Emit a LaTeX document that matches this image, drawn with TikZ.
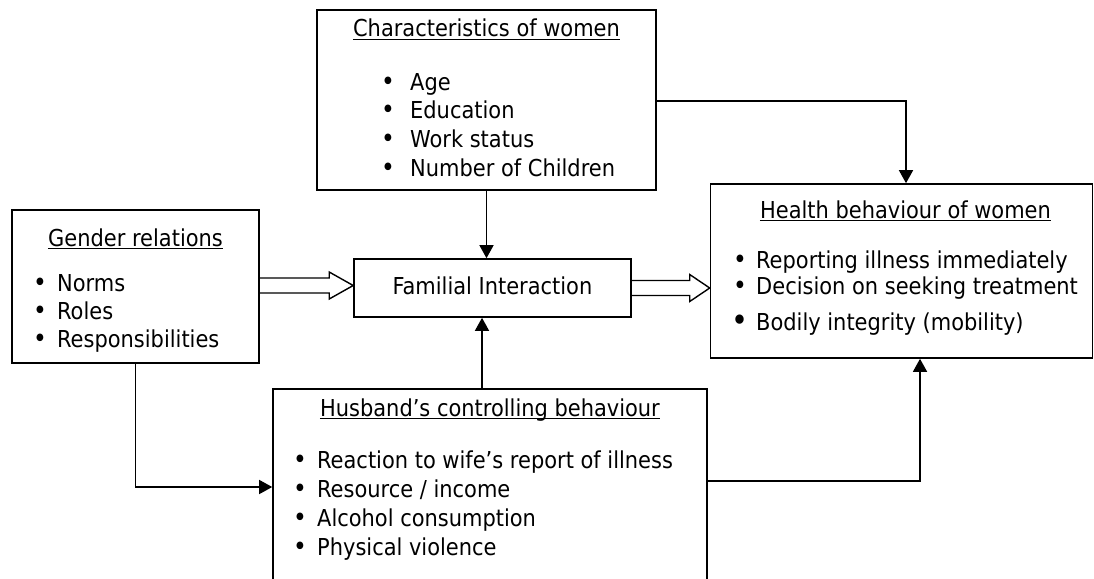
\documentclass[tikz,border=0pt]{standalone}
\usepackage{fontspec}
\setmainfont{DejaVu Sans Condensed}
\usetikzlibrary{arrows.meta,calc}
\begin{document}
\begin{tikzpicture}[x=1pt,y=-1pt,
  box/.style={draw,line width=1.6pt,inner sep=0pt,rectangle},
  txt/.style={inner sep=0pt,anchor=base west,font=\fontsize{23.3}{28}\selectfont},
  ttl/.style={inner sep=0pt,anchor=base,font=\fontsize{23.3}{28}\selectfont},
  bul/.style={inner sep=0pt,anchor=base,font=\fontsize{26}{26}\selectfont},
  ul/.style={line width=1.3pt},
  arr/.style={line width=1.4pt,-{Triangle[length=13pt,width=14pt]}},
  hollow/.style={line width=1.4pt,line join=miter}]
\useasboundingbox (0,0) rectangle (1094,578);
\clip (0,0) rectangle (1094,578);
\fill[white] (0,0) rectangle (1094,578);

% boxes
\node[box,minimum width=339pt,minimum height=180pt] (char) at (486.5,100) {};
\node[box,minimum width=247pt,minimum height=153pt] (gender) at (135.5,286.5) {};
\node[box,minimum width=277pt,minimum height=58pt] (fam) at (492.5,288) {};
\node[box,minimum width=382pt,minimum height=174pt] (health) at (901.5,271) {};
\node[box,minimum width=434pt,minimum height=240pt] (husb) at (490,509) {};

% Characteristics of women
\node[ttl] (t1) at (486.5,37) {Characteristics of women};
\draw[ul] ($(t1.base west)+(0,2.5)$) -- ($(t1.base east)+(0,2.5)$);
\node[bul] (c1b) at (388,90) {•};   \node[txt] (c1) at (410,90) {Age};
\node[bul] (c2b) at (388,118.5) {•}; \node[txt] (c2) at (410,118.5) {Education};
\node[bul] (c3b) at (388,147) {•};  \node[txt] (c3) at (410,147) {Work status};
\node[bul] (c4b) at (388,176) {•};  \node[txt] (c4) at (410,176) {Number of Children};

% Gender relations
\node[ttl] (t2) at (135.5,246) {Gender relations};
\draw[ul] ($(t2.base west)+(0,2.5)$) -- ($(t2.base east)+(0,2.5)$);
\node[bul] (g1b) at (40,291) {•}; \node[txt] (g1) at (57,291) {Norms};
\node[bul] (g2b) at (40,319) {•}; \node[txt] (g2) at (57,319) {Roles};
\node[bul] (g3b) at (40,347) {•}; \node[txt] (g3) at (57,347) {Responsibilities};

% Familial interaction
\node[ttl] (t3) at (492.5,294) {Familial Interaction};

% Health behaviour of women
\node[ttl] (t4) at (905.5,218) {Health behaviour of women};
\draw[ul] ($(t4.base west)+(0,2.5)$) -- ($(t4.base east)+(0,2.5)$);
\node[bul] (h1b) at (740,268) {•}; \node[txt] (h1) at (756,268) {Reporting illness immediately};
\node[bul] (h2b) at (740,294) {•}; \node[txt] (h2) at (756,294) {Decision on seeking treatment};
\node[bul,font=\fontsize{32}{32}\selectfont] (h3b) at (740,331) {•}; \node[txt] (h3) at (756,330) {Bodily integrity (mobility)};

% Husband's controlling behaviour
\node[ttl] (t5) at (490,416) {Husband’s controlling behaviour};
\draw[ul] ($(t5.base west)+(0,2.5)$) -- ($(t5.base east)+(0,2.5)$);
\node[bul] (b1b) at (300,468) {•}; \node[txt] (b1) at (317,468) {Reaction to wife’s report of illness};
\node[bul] (b2b) at (300,497) {•}; \node[txt] (b2) at (317,497) {Resource / income};
\node[bul] (b3b) at (300,526) {•}; \node[txt] (b3) at (317,526) {Alcohol consumption};
\node[bul] (b4b) at (300,555) {•}; \node[txt] (b4) at (317,555) {Physical violence};

% connectors
\coordinate (cr) at ($(char.east)+(0,1)$);
\coordinate (ht) at ($(health.north)+(4.5,0)$);
\draw[arr] (cr) -| (ht);
\draw[arr] (char.south) -- (char.south |- fam.north);
\coordinate (hn) at ($(husb.north)+(-8,0)$);
\draw[arr] (hn) -- (hn |- fam.south);
\coordinate (he) at (husb.east |- 0,481);
\coordinate (hs) at ($(health.south)+(18.5,0)$);
\draw[arr] (he) -| (hs);
\coordinate (hw) at (husb.west |- 0,487);
\draw[arr] (gender.south) |- (hw);

% hollow double arrows
\draw[hollow] let \p1=($(gender.east)+(0,-1)$), \p2=(fam.west) in
  (\x1,\y1+7.5pt) -- (\x2-24pt,\y1+7.5pt) -- (\x2-24pt,\y1+13.5pt) -- (\x2,\y1)
  -- (\x2-24pt,\y1-13.5pt) -- (\x2-24pt,\y1-7.5pt) -- (\x1,\y1-7.5pt);
\draw[hollow] let \p1=(fam.east), \p2=(health.west) in
  (\x1,\y1+7.5pt) -- (\x2-20pt,\y1+7.5pt) -- (\x2-20pt,\y1+13.5pt) -- (\x2,\y1)
  -- (\x2-20pt,\y1-13.5pt) -- (\x2-20pt,\y1-7.5pt) -- (\x1,\y1-7.5pt);
\end{tikzpicture}
\end{document}
